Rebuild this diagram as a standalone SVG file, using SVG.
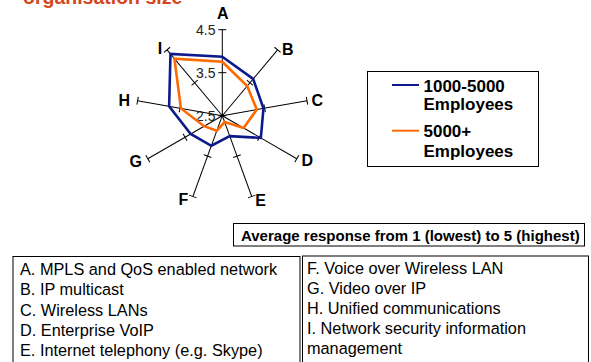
<svg xmlns="http://www.w3.org/2000/svg" width="591" height="362" viewBox="0 0 591 362">
  <style>
    text { font-family: "Liberation Sans", Arial, sans-serif; fill: #000; }
    .title { font-size: 19.5px; font-weight: bold; fill: #d4471b; }
    .axis-label { font-size: 16px; font-weight: bold; text-anchor: middle; }
    .scale-label { font-size: 14px; text-anchor: end; fill: #222; }
    .legend-text { font-size: 17px; font-weight: bold; }
    .caption { font-size: 15px; font-weight: bold; }
    .item { font-size: 16.3px; }
    .box { fill: #fff; stroke: #000; stroke-width: 1; }
    .series-a { fill: none; stroke: #0d1a8c; stroke-width: 2.6; stroke-linejoin: miter; }
    .series-b { fill: none; stroke: #ff6a00; stroke-width: 2.6; stroke-linejoin: miter; }
  </style>
  <defs>
    <!-- one radar spoke: axis line with ticks at 3.5 and 4.5 -->
    <g id="spoke" stroke="#000" stroke-width="1">
      <line x1="0" y1="0" x2="0" y2="-86"/>
      <line x1="-4" y1="-43" x2="4" y2="-43"/>
      <line x1="-4" y1="-86" x2="4" y2="-86"/>
    </g>
  </defs>

  <!-- heading (top edge clipped) -->
  <text class="title" x="23" y="4">organisation size</text>

  <!-- radar chart axes -->
  <g id="connectors">
    <g transform="translate(222.3,115.7)">
      <use href="#spoke" transform="rotate(0)"/>
      <use href="#spoke" transform="rotate(40)"/>
      <use href="#spoke" transform="rotate(80)"/>
      <use href="#spoke" transform="rotate(120)"/>
      <use href="#spoke" transform="rotate(160)"/>
      <use href="#spoke" transform="rotate(200)"/>
      <use href="#spoke" transform="rotate(240)"/>
      <use href="#spoke" transform="rotate(280)"/>
      <use href="#spoke" transform="rotate(320)"/>
      <line x1="-4" y1="0" x2="4" y2="0" stroke="#000" stroke-width="1"/>
      <circle cx="0" cy="0" r="1.6" fill="#000"/>
    </g>
  </g>

  <!-- scale values on axis A -->
  <g id="scale">
    <text class="scale-label" x="215.5" y="34.5">4.5</text>
    <text class="scale-label" x="215.5" y="77.5">3.5</text>
    <text class="scale-label" x="215.5" y="120.5">2.5</text>
  </g>

  <!-- data series -->
  <g id="series-1000-5000">
    <polygon class="series-a" points="222.3,56.7 253.15,78.93 263.46,108.44 260.84,137.95 229.76,136.19 211.36,145.77 190.69,133.95 169.12,106.33 170.49,53.96"/>
  </g>
  <g id="series-5000plus">
    <polygon class="series-b" points="222.3,61.7 247.18,86.06 256.77,109.62 243.52,127.95 224.63,122.09 216.83,130.74 204.11,126.2 180.94,108.41 174.41,58.63"/>
  </g>

  <!-- axis letters -->
  <g id="axis-labels">
    <text class="axis-label" x="222.7" y="19">A</text>
    <text class="axis-label" x="287.7" y="54.7">B</text>
    <text class="axis-label" x="317.3" y="106.4">C</text>
    <text class="axis-label" x="307.3" y="166.4">D</text>
    <text class="axis-label" x="260.7" y="205.7">E</text>
    <text class="axis-label" x="183.3" y="205">F</text>
    <text class="axis-label" x="135.7" y="166.7">G</text>
    <text class="axis-label" x="124.3" y="106.4">H</text>
    <text class="axis-label" x="160" y="54">I</text>
  </g>

  <!-- legend -->
  <g id="legend">
    <rect class="box" x="367.5" y="71.5" width="171" height="95"/>
    <line x1="392" y1="85" x2="419" y2="85" stroke="#0d1a8c" stroke-width="2"/>
    <text class="legend-text" x="423.5" y="91.7">1000-5000</text>
    <text class="legend-text" x="423.5" y="110">Employees</text>
    <line x1="392" y1="130.7" x2="419" y2="130.7" stroke="#ff6a00" stroke-width="2"/>
    <text class="legend-text" x="423.5" y="136.5">5000+</text>
    <text class="legend-text" x="423.5" y="156.7">Employees</text>
  </g>

  <!-- scale caption -->
  <g id="caption">
    <rect class="box" x="233.5" y="223.5" width="351" height="22.5"/>
    <text class="caption" x="241" y="241.3">Average response from 1 (lowest) to 5 (highest)</text>
  </g>

  <!-- key to axis letters -->
  <g id="key-left">
    <rect class="box" x="13" y="256.5" width="287" height="110"/>
    <text class="item" x="20" y="275">A. MPLS and QoS enabled network</text>
    <text class="item" x="20" y="295.3">B. IP multicast</text>
    <text class="item" x="20" y="315.6">C. Wireless LANs</text>
    <text class="item" x="20" y="336">D. Enterprise VoIP</text>
    <text class="item" x="20" y="356.3">E. Internet telephony (e.g. Skype)</text>
  </g>
  <g id="key-right">
    <rect class="box" x="302.5" y="256" width="286" height="110"/>
    <text class="item" x="307" y="274">F. Voice over Wireless LAN</text>
    <text class="item" x="307" y="294">G. Video over IP</text>
    <text class="item" x="307" y="314">H. Unified communications</text>
    <text class="item" x="307" y="334">I. Network security information</text>
    <text class="item" x="307" y="354">management</text>
  </g>
</svg>
